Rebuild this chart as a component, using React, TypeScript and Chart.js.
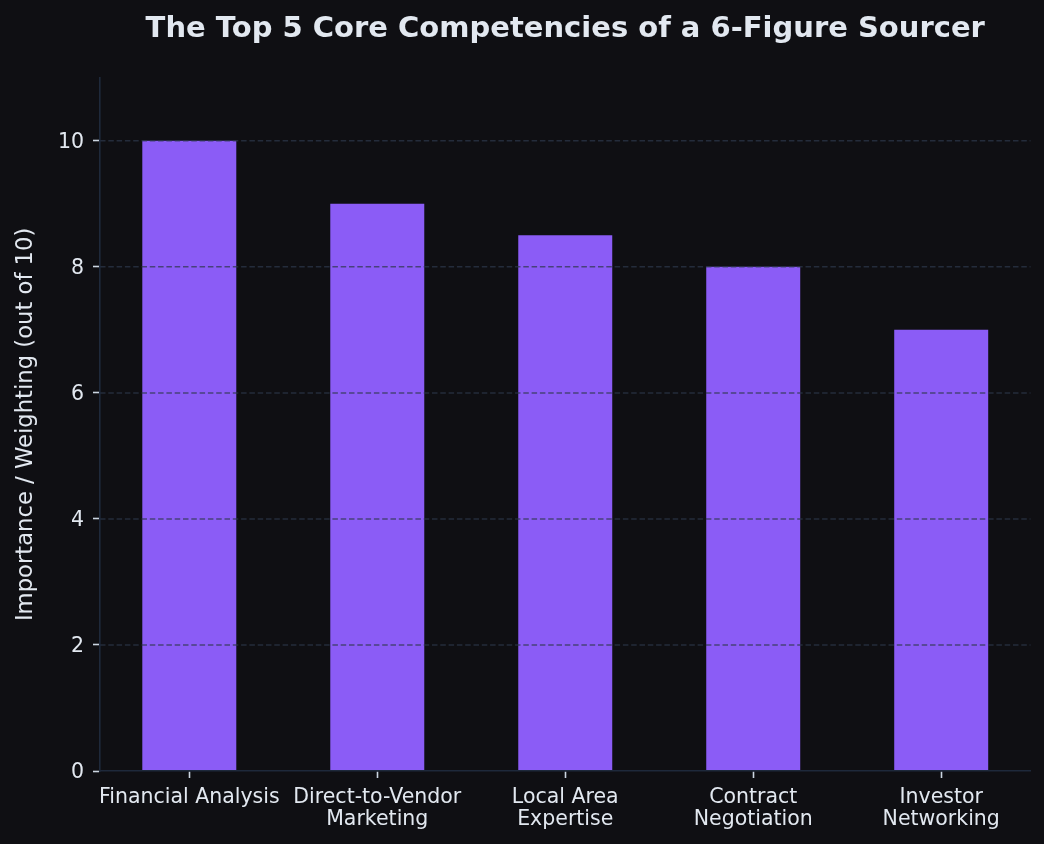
import { useEffect, useRef } from 'react';
import { Chart, registerables } from 'chart.js';

Chart.register(...registerables);

const categories = [
  'Financial Analysis',
  'Direct-to-Vendor\nMarketing',
  'Local Area\nExpertise',
  'Contract\nNegotiation',
  'Investor\nNetworking',
];
const values = [10, 9, 8.5, 8, 7];
const titleText = 'The Top 5 Core Competencies of a 6-Figure Sourcer';
const yLabel = 'Importance / Weighting (out of 10)';

const BG = '#0f0f13';
const BAR = '#8b5cf6';
const TEXT = '#e2e8f0';
const SPINE = '#1e293b';
const TICK = '#cbd5e1';
const GRID = 'rgba(45,55,75,0.72)';
const FONT = "'DejaVu Sans', sans-serif";

const gridOverlay = {
  id: 'gridOverlay',
  afterDatasetsDraw(chart: any) {
    const { ctx, chartArea, scales } = chart;
    const y = scales.y;
    ctx.save();
    ctx.strokeStyle = GRID;
    ctx.lineWidth = 1.5;
    ctx.setLineDash([5.5, 2.8]);
    y.ticks.forEach((t: any) => {
      if (t.value === 0) return;
      const py = y.getPixelForValue(t.value);
      ctx.beginPath();
      ctx.moveTo(chartArea.left, py);
      ctx.lineTo(chartArea.right, py);
      ctx.stroke();
    });
    ctx.restore();
  },
};

export default function App() {
  const ref = useRef<HTMLCanvasElement>(null);
  useEffect(() => {
    document.body.style.margin = '0';
    document.body.style.background = BG;
    const chart = new Chart(ref.current as HTMLCanvasElement, {
      type: 'bar',
      data: {
        datasets: [
          {
            data: values.map((v, i) => ({ x: i, y: v })),
            backgroundColor: BAR,
            borderWidth: 0,
            barPercentage: 0.5,
            categoryPercentage: 1,
          },
        ],
      },
      plugins: [gridOverlay],
      options: {
        animation: false,
        responsive: false,
        devicePixelRatio: 1,
        layout: { padding: { left: 0, right: 13.5, top: 0, bottom: 0 } },
        plugins: {
          legend: { display: false },
          tooltip: { enabled: false },
          title: {
            display: true,
            text: titleText,
            fullSize: false,
            color: TEXT,
            font: { family: FONT, size: 29, weight: 'bold', lineHeight: 1.2 },
            padding: { top: 12, bottom: 31 },
          },
        },
        scales: {
          x: {
            type: 'linear',
            offset: false,
            min: -0.475,
            max: 4.475,
            afterFit: (s: any) => {
              s.height = 73;
            },
            ticks: {
              stepSize: 1,
              includeBounds: false,
              autoSkip: false,
              maxRotation: 0,
              minRotation: 0,
              color: TEXT,
              padding: 8,
              font: { family: FONT, size: 20.5, lineHeight: 1.1 },
              callback: (v: any) => {
                const i = Number(v);
                return Number.isInteger(i) && categories[i] ? categories[i].split('\n') : '';
              },
            },
            grid: {
              offset: false,
              drawOnChartArea: false,
              drawTicks: true,
              tickLength: 7,
              tickColor: TICK,
              tickWidth: 1.6,
            },
            border: { color: SPINE, width: 1.6, z: 2 },
          },
          y: {
            min: 0,
            max: 11,
            afterFit: (s: any) => {
              s.width = 100;
            },
            ticks: {
              stepSize: 2,
              includeBounds: false,
              color: TEXT,
              padding: 9,
              labelOffset: 2,
              font: { family: FONT, size: 20.5 },
            },
            grid: {
              drawOnChartArea: false,
              drawTicks: true,
              tickLength: 7,
              tickColor: TICK,
              tickWidth: 1.6,
            },
            border: { color: SPINE, width: 1.6, z: 2 },
            title: {
              display: true,
              text: yLabel,
              color: TEXT,
              font: { family: FONT, size: 22.7 },
              padding: { top: 12, bottom: 0 },
            },
          },
        },
      } as any,
    });
    return () => chart.destroy();
  }, []);
  return (
    <div style={{ width: 1044, height: 844, background: BG }}>
      <canvas ref={ref} width={1044} height={844} style={{ display: 'block' }} />
    </div>
  );
}
